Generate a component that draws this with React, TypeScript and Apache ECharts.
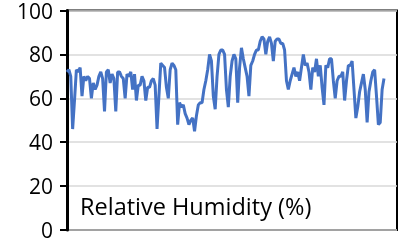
import React, { useEffect, useRef } from "react";
import * as echarts from "echarts";

// Relative humidity readings (%), in time order
const humidityPart1: number[] = [
  72, 73, 70, 46, 59, 73, 72, 74, 61, 70, 68, 70, 69, 60, 67, 64, 66, 70, 72, 69,
  54, 72, 73, 67, 71, 69, 54, 72, 72, 70, 69, 60, 71, 70, 72, 64, 71, 59, 66, 66,
  70, 68, 59, 65, 65, 68, 69, 66, 46, 61, 76, 75, 74, 65, 60, 73, 76, 75, 73, 48,
  58, 56, 57, 53, 51, 48, 50,
];
const humidityPart2: number[] = [
  51, 45, 52, 57, 58, 58, 64, 68, 73, 80, 77, 61, 55, 70, 80, 82, 82, 80, 64, 56,
  70, 77, 80, 78, 58, 74, 83, 78, 74, 70, 61, 75, 77, 80, 82, 82, 86, 88, 87, 80,
  86, 88, 85, 77, 86, 87, 87, 85, 85, 82, 68, 64, 68, 71, 74, 70, 72, 68, 74, 80,
  75, 76, 72, 64, 74, 72, 78, 70, 75, 65, 57, 75, 74, 78, 78, 68, 60, 68, 70, 70,
  72, 59, 68, 75, 75, 77, 64, 51, 56, 63, 67, 71, 64, 49, 63, 68, 72, 73, 61, 48,
  49, 64, 69,
];
const humidity: number[] = [...humidityPart1, ...humidityPart2];
const yTicks: number[] = [0, 20, 40, 60, 80, 100];
const labelText = "Relative Humidity (%)";

export default function App() {
  const ref = useRef<HTMLDivElement>(null);
  useEffect(() => {
    if (!ref.current) return;
    const chart = echarts.init(ref.current, undefined, { renderer: "svg" });
    const font = "'Open Sans', 'Noto Sans', sans-serif";
    const n = humidity.length;
    chart.setOption({
      animation: false,
      grid: {
        left: 67,
        right: 1,
        top: 10,
        bottom: 11,
        show: true,
        borderColor: "#000",
        borderWidth: 2,
      },
      xAxis: {
        type: "value",
        min: 0,
        max: ((n - 1) * 330) / 317,
        show: false,
      },
      yAxis: {
        type: "value",
        min: yTicks[0],
        max: yTicks[yTicks.length - 1],
        interval: 20,
        axisLine: { show: true, lineStyle: { color: "#000", width: 3 } },
        axisTick: { show: true, length: 7, lineStyle: { color: "#000", width: 2 } },
        axisLabel: {
          margin: 14,
          color: "#000",
          fontSize: 21,
          fontFamily: font,
        },
        splitLine: { lineStyle: { color: "#d9d9d9", width: 1.5 } },
      },
      graphic: [
        {
          type: "text",
          left: 80,
          top: 194,
          style: {
            text: labelText,
            fill: "#000",
            fontSize: 23.5,
            fontFamily: font,
          },
        },
      ],
      series: [
        {
          type: "line",
          data: humidity.map((v, i) => [i, v]),
          showSymbol: false,
          lineStyle: { color: "#4472C4", width: 3 },
          itemStyle: { color: "#4472C4" },
        },
      ],
    });
    return () => chart.dispose();
  }, []);
  return (
    <div
      ref={ref}
      style={{ position: "fixed", left: 0, top: 0, width: 398, height: 241 }}
    />
  );
}
